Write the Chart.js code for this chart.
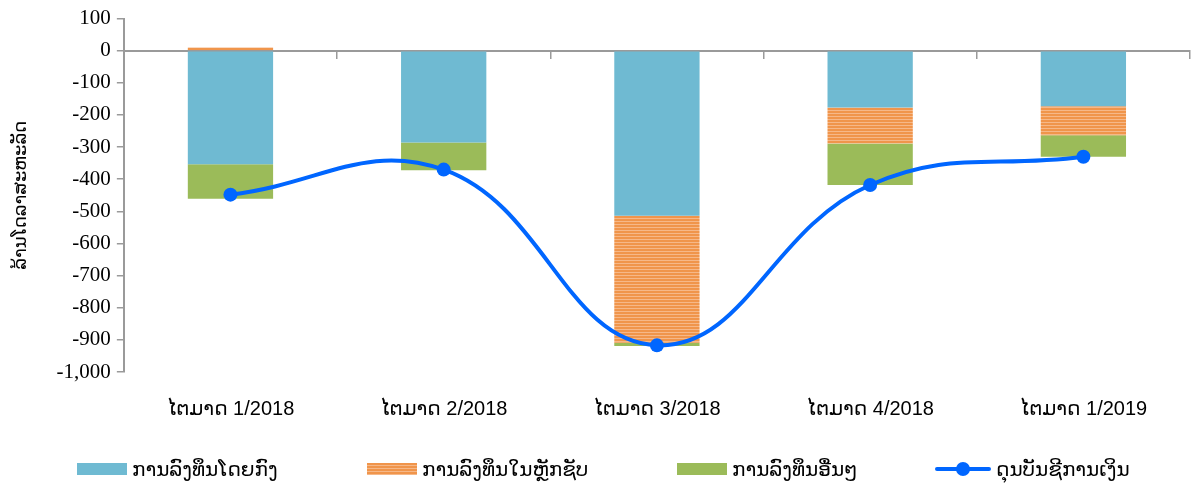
<!DOCTYPE html>
<html>
<head>
<meta charset="utf-8">
<script src="https://cdn.jsdelivr.net/npm/chart.js@4.4.1/dist/chart.umd.min.js"></script>
<style>
  html, body { margin: 0; padding: 0; background: #fff; }
  #wrap { position: relative; width: 1197px; height: 483px; }
  #legend { position: absolute; left: 0; top: 456px; width: 1197px; height: 26px;
            font: 20px 'Liberation Sans', 'DejaVu Sans', sans-serif; color: #000; }
  .item { position: absolute; top: 0; height: 26px; display: flex; align-items: center; white-space: nowrap; }
  .icon { position: relative; width: 50px; height: 12px; margin-right: 5px; }
  .icon.line { width: 56px; height: 14px; }
  .icon.line::before { content: ''; position: absolute; left: 0; right: 0; top: 5px; height: 4px; background: #0066ff; border-radius: 2px; }
  .icon.line::after { content: ''; position: absolute; left: 21px; top: 0; width: 14px; height: 14px; border-radius: 50%; background: #0066ff; }
</style>
</head>
<body>
<div id="wrap"><canvas id="chart" width="1197" height="483"></canvas><div id="legend"></div></div>
<script>
// --- Datos ---
const quarters  = ['ໄຕມາດ 1/2018', 'ໄຕມາດ 2/2018', 'ໄຕມາດ 3/2018', 'ໄຕມາດ 4/2018', 'ໄຕມາດ 1/2019'];
const direct    = [-353, -286, -514, -177, -173];
const portfolio = [10, 0, -395, -112, -90];
const other     = [-108, -86, -10, -129, -67];
const balance   = [-448, -370, -917, -418, -330];
const yMin = -1000, yMax = 100, yStep = 100;

const names = ['ການລົງທຶນໂດຍກົງ', 'ການລົງທຶນໃນຫຼັກຊັບ', 'ການລົງທຶນອື່ນໆ', 'ດຸນບັນຊີການເງິນ'];
const BLUE = '#6fbad2', GREEN = '#9bbb59', LINE = '#0066ff';
const ORANGE = '#f0954b', ORANGE_LIGHT = '#f6b888';

// --- Helpers ---
const stripePattern = (() => {
  const c = document.createElement('canvas');
  c.width = 4; c.height = 3;
  const g = c.getContext('2d');
  g.fillStyle = ORANGE; g.fillRect(0, 0, 4, 3);
  g.fillStyle = ORANGE_LIGHT; g.fillRect(0, 2, 4, 1);
  return g.createPattern(c, 'repeat');
})();

const barSet = (label, data, color, swatch) => ({
  type: 'bar', label, data, backgroundColor: color, borderWidth: 0, swatch,
  stack: 'flows', order: 2, categoryPercentage: 1, barPercentage: 0.4
});

// leyenda html (posiciones como en el original)
const legendLeft = [77, 367, 677, 935];
const buildLegend = chart => {
  document.getElementById('legend').innerHTML = chart.data.datasets.map((ds, i) => {
    const icon = ds.type === 'line'
      ? '<span class="icon line"></span>'
      : `<span class="icon" style="background:${ds.swatch}"></span>`;
    return `<div class="item" style="left:${legendLeft[i]}px">${icon}<span>${ds.label}</span></div>`;
  }).join('');
};

// --- Grafico ---
const chart = new Chart(document.getElementById('chart'), {
  data: {
    labels: quarters,
    datasets: [
      barSet(names[0], direct, BLUE, BLUE),
      barSet(names[1], portfolio, stripePattern,
        `repeating-linear-gradient(to bottom, ${ORANGE} 0 2px, ${ORANGE_LIGHT} 2px 3px)`),
      barSet(names[2], other, GREEN, GREEN),
      {
        type: 'line', label: names[3], data: balance, stack: 'balance', order: 0,
        borderColor: LINE, backgroundColor: LINE, borderWidth: 4, tension: 0.42,
        pointRadius: 7, pointHoverRadius: 7, pointBackgroundColor: LINE, pointBorderWidth: 0
      }
    ]
  },
  options: {
    responsive: false,
    animation: false,
    devicePixelRatio: 1,
    layout: { padding: { top: 10, right: -6, left: 11, bottom: 37 } },
    plugins: { tooltip: { enabled: false }, legend: { display: false } },
    scales: {
      x: {
        stacked: true,
        grid: { display: false, drawTicks: false },
        border: { display: false },
        ticks: { color: '#000', padding: 25, font: { family: 'Liberation Sans, DejaVu Sans', size: 20 } }
      },
      xZero: {
        type: 'category',
        position: { y: 0 },
        offset: true,
        grid: { offset: true, drawOnChartArea: false, drawTicks: true, tickLength: 7, color: '#9a9a9a', lineWidth: 1.5 },
        border: { display: true, color: '#9a9a9a', width: 2 },
        ticks: { display: false }
      },
      y: {
        stacked: true,
        min: yMin, max: yMax,
        grid: { drawOnChartArea: false, drawTicks: true, tickLength: 7, color: '#9a9a9a', lineWidth: 1.5 },
        border: { display: true, color: '#9a9a9a', width: 2 },
        ticks: {
          stepSize: yStep, color: '#000', padding: 6,
          font: { family: 'Liberation Serif', size: 21 },
          callback: v => v.toLocaleString('en-US')
        },
        title: {
          display: true, text: 'ລ້ານໂດລາສະຫະລັດ', color: '#000',
          font: { family: 'DejaVu Sans', size: 18 }, padding: { top: 0, bottom: 18 }
        }
      }
    }
  }
});
buildLegend(chart);
</script>
</body>
</html>
